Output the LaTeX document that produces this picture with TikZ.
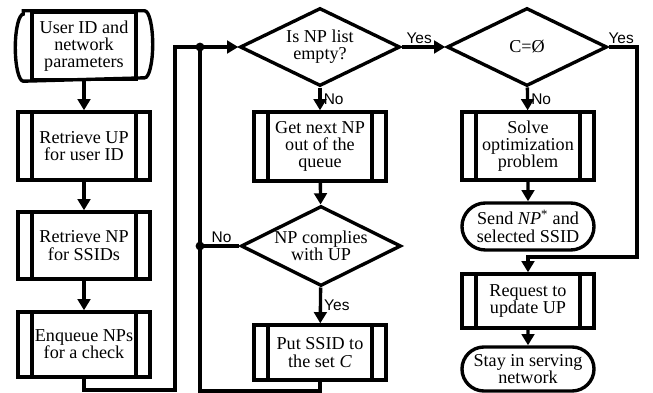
\documentclass[tikz,border=0pt]{standalone}
\usepackage{fontspec}
\setmainfont{Liberation Serif}
\newfontfamily\lblfont{Liberation Sans}
\usepackage{tikz}
\usetikzlibrary{arrows.meta,shapes,calc}

\begin{document}
\begin{tikzpicture}[x=0.025cm, y=-0.025cm, line width=2.4pt,
                    every node/.style = {font=\fontsize{12.9}{12.3}\selectfont},
                    box/.style = {rectangle, draw=black, line width=2.4pt, minimum width=3.3cm, align=center, inner sep=0pt},
                    proc/.style = {box, path picture={
                        \draw[line width=2.4pt] ([xshift=0.35cm]path picture bounding box.north west) -- ([xshift=0.35cm]path picture bounding box.south west);
                        \draw[line width=2.4pt] ([xshift=-0.35cm]path picture bounding box.north east) -- ([xshift=-0.35cm]path picture bounding box.south east);}},
                    terminal/.style = {rounded rectangle, draw=black, line width=2.4pt, minimum width=3.3cm, align=center, inner sep=0pt},
                    decision/.style = {diamond, draw=black, line width=2.4pt, aspect=2, minimum width=4cm, minimum height=1.95cm, align=center, inner sep=0pt},
                    arr/.style = {-{Triangle[length=8pt,width=9pt]}},
                    lbl/.style = {font=\lblfont\fontsize{11}{12}\selectfont, inner sep=1.5pt}]
    \useasboundingbox (0,0) rectangle (653,393);
    % left column
    \node at (84,46) [box, minimum width=2.6cm, minimum height=1.675cm] (start) {User ID and\\network\\parameters};
    \draw ([xshift=-0.175cm]start.north west) -- ([xshift=0.175cm]start.north east)
          arc[start angle=90, end angle=-90, x radius=0.2cm, y radius=0.8375cm]
          -- ([xshift=-0.175cm]start.south west)
          arc[start angle=270, end angle=90, x radius=0.2cm, y radius=0.8375cm] -- cycle;
    \node at (84,146) [proc, minimum height=1.7cm] (retup) {Retrieve UP\\for user ID};
    \node at (84,245.5) [proc, minimum height=1.675cm] (retnp) {Retrieve NP\\for SSIDs};
    \node at (84,344.5) [proc, minimum height=1.625cm] (enq) {Enqueue NPs\\for a check};
    % middle column
    \node at (320,47) [decision] (isempty) {Is NP list\\empty?};
    \node at (320,146.5) [proc, minimum height=1.725cm] (getnp) {Get next NP\\out of the\\queue};
    \node at (321,246) [decision, minimum height=2cm] (comply) {NP complies\\with UP};
    \node at (320,352.5) [proc, minimum height=1.375cm] (putc) {Put SSID to\\the set \textit{C}};
    % right column
    \node at (527,47) [decision] (cempty) {C=Ø};
    \node at (528,146) [proc, minimum height=1.7cm] (solve) {Solve\\optimization\\problem};
    \node at (528,226.5) [terminal, minimum height=1.175cm] (send) {Send \textit{NP}\textsuperscript{*} and\\selected SSID};
    \node at (528,301) [proc, minimum height=1.35cm] (request) {Request to\\update UP};
    \node at (528,369) [terminal, minimum height=1.1cm] (stay) {Stay in serving\\network};
    % bends and junctions
    \coordinate (bendA) at (175,390);
    \coordinate (bendB) at (200,391);
    \coordinate (bendC) at (637,257);
    \coordinate (j1) at (200,47);
    \coordinate (j2) at (200,246);
    % connections
    \draw[arr] (start) -- (retup);
    \draw[arr] (retup) -- (retnp);
    \draw[arr] (retnp) -- (enq);
    \draw[arr] (enq.south) |- (bendA) |- (isempty.west);
    \draw (putc.south) |- (bendB) -- (j1);
    \draw (comply.west) -- node[lbl, above, pos=0.45] {No} (j2);
    \fill (j1) circle (0.11cm);
    \fill (j2) circle (0.11cm);
    \draw[arr] (isempty) -- node[lbl, right] {No} (getnp);
    \draw[arr] (getnp) -- (comply);
    \draw[arr] (comply) -- node[lbl, right] {Yes} (putc);
    \draw[arr] (isempty.east) -- node[lbl, above, pos=0.4] {Yes} (cempty.west);
    \draw[arr] (cempty) -- node[lbl, right] {No} (solve);
    \draw[arr] (solve) -- (send);
    \draw[arr] (cempty.east) -| node[lbl, above, pos=0.22] {Yes} (bendC) -- (request.north |- bendC) -- (request.north);
    \draw[arr] (request) -- (stay);
\end{tikzpicture}
\end{document}
